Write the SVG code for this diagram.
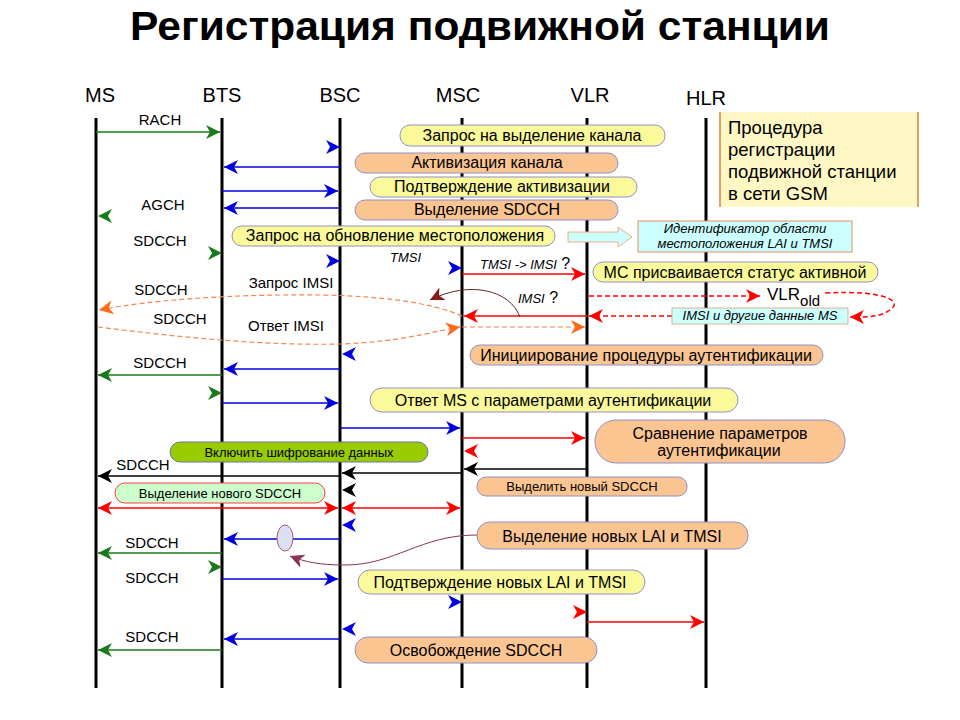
<svg xmlns="http://www.w3.org/2000/svg" width="960" height="720" viewBox="0 0 960 720">
<style>
text{font-family:"Liberation Sans",Arial,sans-serif;fill:#000}
.title{font-family:"Liberation Sans Narrow","Liberation Sans",Arial,sans-serif;font-weight:bold;font-size:40px;text-anchor:middle}
.ll{stroke:#000;stroke-width:3}
.lbl{font-size:20px;text-anchor:middle}
.m{font-size:15px;text-anchor:middle}
.pt{font-size:16px;text-anchor:middle}
.ps{font-size:13px;text-anchor:middle}
.it{font-style:italic;font-size:13px}
.y{fill:#fafa9a;stroke:#9090c8;stroke-width:1}
.o{fill:#fbc592;stroke:#9090c8;stroke-width:1}
.c{fill:none;stroke-width:1.5}
.b{stroke:#0000e0}
.g{stroke:#1a7a1a}
.r{stroke:#ff0000}
.k{stroke:#000}
.or{stroke:#f08850;stroke-width:1.2}
.d{stroke-dasharray:5 3}
.hb{fill:#0000e0}.hg{fill:#1a7a1a}.hr{fill:#ff0000}.hk{fill:#000}.ho{fill:#ff6a1a}
</style>
<defs>
<path id="hd" d="M0,0 L-14,-7 L-10,0 L-14,7 Z"/>
<marker id="mb" viewBox="-14 -7 14 14" refX="0" refY="0" markerWidth="14" markerHeight="14" markerUnits="userSpaceOnUse" orient="auto-start-reverse"><path d="M0,0 L-14,-7 L-10,0 L-14,7 Z" fill="#0000e0"/></marker>
<marker id="mg" viewBox="-14 -7 14 14" refX="0" refY="0" markerWidth="14" markerHeight="14" markerUnits="userSpaceOnUse" orient="auto-start-reverse"><path d="M0,0 L-14,-7 L-10,0 L-14,7 Z" fill="#1a7a1a"/></marker>
<marker id="mr" viewBox="-14 -7 14 14" refX="0" refY="0" markerWidth="14" markerHeight="14" markerUnits="userSpaceOnUse" orient="auto-start-reverse"><path d="M0,0 L-14,-7 L-10,0 L-14,7 Z" fill="#ff0000"/></marker>
<marker id="mk" viewBox="-14 -7 14 14" refX="0" refY="0" markerWidth="14" markerHeight="14" markerUnits="userSpaceOnUse" orient="auto-start-reverse"><path d="M0,0 L-14,-7 L-10,0 L-14,7 Z" fill="#000"/></marker>
<marker id="mo" viewBox="-14 -7 14 14" refX="0" refY="0" markerWidth="14" markerHeight="14" markerUnits="userSpaceOnUse" orient="auto-start-reverse"><path d="M0,0 L-14,-7 L-10,0 L-14,7 Z" fill="#ff6a1a"/></marker>
<marker id="md" viewBox="-14 -7 14 14" refX="0" refY="0" markerWidth="14" markerHeight="14" markerUnits="userSpaceOnUse" orient="auto"><path d="M0,0 L-14,-7 L-10,0 L-14,7 Z" fill="#8b1a1a"/></marker>
<marker id="mp" viewBox="-14 -7 14 14" refX="0" refY="0" markerWidth="14" markerHeight="14" markerUnits="userSpaceOnUse" orient="auto"><path d="M0,0 L-14,-7 L-10,0 L-14,7 Z" fill="#883355"/></marker>
</defs>
<rect width="960" height="720" fill="#fff"/>
<text class="title" x="480" y="40" textLength="700" lengthAdjust="spacingAndGlyphs">Регистрация подвижной станции</text>

<g id="lifelines">
<g id="ll-ms"><text class="lbl" x="100" y="102">MS</text><line class="ll" x1="96" y1="118" x2="96" y2="688"/></g>
<g id="ll-bts"><text class="lbl" x="222" y="102">BTS</text><line class="ll" x1="222" y1="118" x2="222" y2="688"/></g>
<g id="ll-bsc"><text class="lbl" x="340" y="102">BSC</text><line class="ll" x1="340" y1="118" x2="340" y2="688"/></g>
<g id="ll-msc"><text class="lbl" x="458" y="102">MSC</text><line class="ll" x1="462" y1="118" x2="462" y2="688"/></g>
<g id="ll-vlr"><text class="lbl" x="590" y="102">VLR</text><line class="ll" x1="587" y1="118" x2="587" y2="688"/></g>
<g id="ll-hlr"><text class="lbl" x="706" y="105">HLR</text><line class="ll" x1="706" y1="118" x2="706" y2="688"/></g>
</g>

<g id="connectors">
<line class="c b" x1="340" y1="167" x2="224" y2="167" marker-end="url(#mb)"/>
<line class="c b" x1="222" y1="191" x2="338" y2="191" marker-end="url(#mb)"/>
<line class="c b" x1="340" y1="208" x2="224" y2="208" marker-end="url(#mb)"/>
<line class="c b" x1="340" y1="369" x2="224" y2="369" marker-end="url(#mb)"/>
<line class="c b" x1="222" y1="403" x2="338" y2="403" marker-end="url(#mb)"/>
<line class="c b" x1="340" y1="428" x2="460" y2="428" marker-end="url(#mb)"/>
<line class="c b" x1="340" y1="539" x2="224" y2="539" marker-end="url(#mb)"/>
<line class="c b" x1="222" y1="579" x2="338" y2="579" marker-end="url(#mb)"/>
<line class="c b" x1="340" y1="639" x2="224" y2="639" marker-end="url(#mb)"/>
<use href="#hd" class="hb" transform="translate(340,147)"/>
<use href="#hd" class="hb" transform="translate(340,261)"/>
<use href="#hd" class="hb" transform="translate(462,268)"/>
<use href="#hd" class="hb" transform="translate(342,354) scale(-1,1)"/>
<use href="#hd" class="hb" transform="translate(342,525) scale(-1,1)"/>
<use href="#hd" class="hb" transform="translate(462,602)"/>
<use href="#hd" class="hb" transform="translate(342,629) scale(-1,1)"/>
<line class="c g" x1="96" y1="132" x2="220" y2="132" marker-end="url(#mg)"/>
<line class="c g" x1="222" y1="375" x2="98" y2="375" marker-end="url(#mg)"/>
<line class="c g" x1="222" y1="553" x2="98" y2="553" marker-end="url(#mg)"/>
<line class="c g" x1="222" y1="650" x2="98" y2="650" marker-end="url(#mg)"/>
<use href="#hd" class="hg" transform="translate(98,216) scale(-1,1)"/>
<use href="#hd" class="hg" transform="translate(222,253)"/>
<use href="#hd" class="hg" transform="translate(222,393)"/>
<use href="#hd" class="hg" transform="translate(222,567)"/>
<line class="c r" x1="462" y1="274" x2="585" y2="274" marker-end="url(#mr)"/>
<line class="c r d" x1="589" y1="296" x2="760" y2="296" marker-end="url(#mr)"/>
<path class="c r d" d="M825,293 C880,290 905,300 890,310 C880,317 870,317 850,317" marker-end="url(#mr)"/>
<line class="c r d" x1="672" y1="316" x2="589" y2="316" marker-end="url(#mr)"/>
<line class="c r" x1="587" y1="316" x2="464" y2="316" marker-end="url(#mr)"/>
<line class="c r" x1="462" y1="438" x2="585" y2="438" marker-end="url(#mr)"/>
<use href="#hd" class="hr" transform="translate(464,451) scale(-1,1)"/>
<line class="c r" x1="98" y1="508" x2="338" y2="508" marker-start="url(#mr)" marker-end="url(#mr)"/>
<line class="c r" x1="342" y1="508" x2="460" y2="508" marker-start="url(#mr)" marker-end="url(#mr)"/>
<use href="#hd" class="hr" transform="translate(587,612)"/>
<line class="c r" x1="587" y1="622" x2="704" y2="622" marker-end="url(#mr)"/>
<line class="c k" x1="587" y1="469" x2="464" y2="469" marker-end="url(#mk)"/>
<line class="c k" x1="462" y1="473" x2="342" y2="473" marker-end="url(#mk)"/>
<line class="c k" x1="340" y1="476" x2="98" y2="476" marker-end="url(#mk)"/>
<use href="#hd" class="hk" transform="translate(342,490) scale(-1,1)"/>
<path class="c or d" d="M462,316 C430,302 380,296 320,295 C230,294 150,300 99,310" marker-end="url(#mo)"/>
<path class="c or d" d="M98,327 C170,336 260,346 340,344 C400,342 430,332 460,327" marker-end="url(#mo)"/>
<line class="c or d" x1="462" y1="327" x2="585" y2="327" marker-end="url(#mo)"/>
<path fill="none" stroke="#5a2a2a" stroke-width="1" d="M520,317 C510,290 470,280 430,300" marker-end="url(#md)"/>
<path fill="none" stroke="#883355" stroke-width="1" d="M477,535 C420,535 395,565 345,565 C320,565 305,562 290,556" marker-end="url(#mp)"/>
<polygon points="568,232 618,232 618,227 632,237 618,247 618,242 568,242" fill="#ccffff" stroke="#f0b080" stroke-width="1"/>
</g>

<g id="labels">
<text class="m" x="160" y="125">RACH</text>
<text class="m" x="163" y="210" font-size="16">AGCH</text>
<text class="m" x="160" y="246">SDCCH</text>
<text class="m" x="291" y="288" font-size="16">Запрос IMSI</text>
<text class="m" x="161" y="295">SDCCH</text>
<text class="m" x="180" y="324">SDCCH</text>
<text class="m" x="286" y="331" font-size="16">Ответ IMSI</text>
<text class="it" x="390" y="262">TMSI</text>
<text x="480" y="269"><tspan class="it">TMSI -&gt; IMSI</tspan><tspan font-size="16"> ?</tspan></text>
<text x="518" y="303"><tspan class="it" font-size="14">IMSI</tspan><tspan font-size="16"> ?</tspan></text>
<text x="767" y="300" font-size="17">VLR<tspan font-size="15" dy="6">old</tspan></text>
<text class="m" x="160" y="368">SDCCH</text>
<text class="m" x="143" y="470">SDCCH</text>
<text class="m" x="152" y="548">SDCCH</text>
<text class="m" x="152" y="583">SDCCH</text>
<text class="m" x="152" y="642">SDCCH</text>
</g>

<g id="ellipse-mark"><ellipse cx="285" cy="538" rx="8" ry="13" fill="#dde0f5" stroke="#a06070" stroke-width="1"/></g>

<g id="note-procedure">
<rect x="720" y="112" width="198" height="95" fill="#fff8c4"/>
<line x1="720" y1="112" x2="720" y2="207" stroke="#d88040" stroke-width="1.5"/>
<line x1="918" y1="112" x2="918" y2="207" stroke="#d88040" stroke-width="1.5"/>
<text x="728" y="134" font-size="18.5">Процедура</text>
<text x="728" y="156" font-size="18.5">регистрации</text>
<text x="728" y="178" font-size="18.5">подвижной станции</text>
<text x="728" y="200" font-size="18.5">в сети GSM</text>
</g>

<g id="n-zapros-kanala"><rect class="y" x="400" y="125" width="265" height="21" rx="10"/><text class="pt" x="532" y="141">Запрос на выделение канала</text></g>
<g id="n-aktiv-kanala"><rect class="o" x="355" y="153" width="263" height="20" rx="10"/><text class="pt" x="487" y="168">Активизация канала</text></g>
<g id="n-podtv-aktiv"><rect class="y" x="370" y="177" width="267" height="20" rx="10"/><text class="pt" x="502" y="192">Подтверждение активизации</text></g>
<g id="n-vydel-sdcch"><rect class="o" x="355" y="200" width="263" height="20" rx="10"/><text class="pt" x="487" y="215">Выделение SDCCH</text></g>
<g id="n-zapros-obnov"><rect class="y" x="232" y="226" width="323" height="20" rx="10"/><text class="pt" x="395" y="241">Запрос на обновление местоположения</text></g>
<g id="n-ident-lai"><rect x="638" y="221" width="214" height="31" fill="#ccffff" stroke="#e09060" stroke-width="1"/><text class="it" x="745" y="233" text-anchor="middle">Идентификатор области</text><text class="it" x="745" y="248" text-anchor="middle">местоположения LAI и TMSI</text></g>
<g id="n-status-aktiv"><rect class="y" x="593" y="262" width="285" height="20" rx="10"/><text class="pt" x="735" y="278" font-size="16.5">МС присваивается статус активной</text></g>
<g id="n-imsi-dannye"><rect x="672" y="308" width="176" height="16" fill="#ccffff" stroke="#e0a070" stroke-width="0.8"/><text class="it" x="760" y="320" font-size="11.5" text-anchor="middle">IMSI и другие данные MS</text></g>
<g id="n-init-auth"><rect class="o" x="470" y="345" width="353" height="20" rx="10"/><text class="pt" x="646" y="361">Инициирование процедуры аутентификации</text></g>
<g id="n-otvet-ms"><rect class="y" x="370" y="388" width="368" height="24" rx="12"/><text class="pt" x="553" y="406">Ответ MS с параметрами аутентификации</text></g>
<g id="n-sravnenie"><rect class="o" x="595" y="420" width="250" height="43" rx="21"/><text class="pt" x="720" y="439">Сравнение параметров</text><text class="pt" x="719" y="456">аутентификации</text></g>
<g id="n-shifrovanie"><rect x="170" y="442" width="258" height="20" rx="10" fill="#99cc00" stroke="#6677aa" stroke-width="1"/><text class="ps" x="299" y="457">Включить шифрование данных</text></g>
<g id="n-vydelit-novyi"><rect class="o" x="477" y="477" width="210" height="19" rx="9"/><text class="ps" x="582" y="491">Выделить новый SDCCH</text></g>
<g id="n-vydel-novogo"><rect x="115" y="483" width="210" height="20" rx="10" fill="#ccffcc" stroke="#ff4040" stroke-width="1"/><text class="ps" x="220" y="498">Выделение нового SDCCH</text></g>
<g id="n-vydel-lai"><rect class="o" x="477" y="522" width="271" height="27" rx="13"/><text class="pt" x="612" y="542" font-size="16.5">Выделение новых LAI и TMSI</text></g>
<g id="n-podtv-lai"><rect class="y" x="358" y="570" width="287" height="24" rx="12"/><text class="pt" x="500" y="588">Подтверждение новых LAI и TMSI</text></g>
<g id="n-osvob"><rect class="o" x="355" y="637" width="242" height="26" rx="13"/><text class="pt" x="476" y="656" font-size="16.5">Освобождение SDCCH</text></g>
</svg>
